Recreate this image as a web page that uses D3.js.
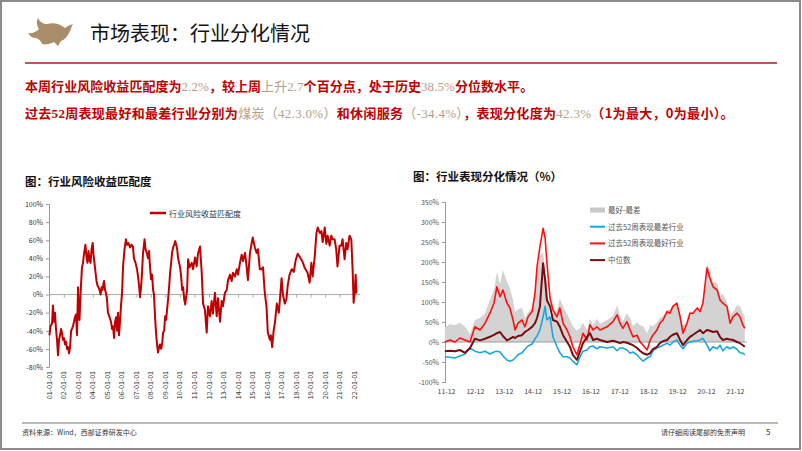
<!DOCTYPE html>
<html>
<head>
<meta charset="utf-8">
<style>
  body { margin: 0; background: #fff; }
  svg { display: block; }
  text { font-family: "Noto Sans CJK SC", sans-serif; }
</style>
</head>
<body>
<svg width="802" height="451"></svg>
<script src="https://d3js.org/d3.v7.min.js"></script>
<script>
	// ---- left chart data: 行业风险收益匹配度 (decimal year, %)
	const lhYears = [2001.01,2001.08,2001.19,2001.25,2001.32,2001.39,2001.46,2001.53,2001.60,2001.67,2001.74,2001.81,2001.87,2001.94,
		2002.01,2002.08,2002.15,2002.22,2002.29,2002.36,2002.43,2002.50,2002.56,2002.63,2002.70,2002.77,2002.84,2002.91,2002.98,
		2003.02,2003.08,2003.15,2003.25,2003.32,2003.39,2003.49,2003.56,2003.63,2003.70,2003.77,2003.84,2003.91,2003.99,
		2004.04,2004.11,2004.18,2004.25,2004.32,2004.39,2004.46,2004.53,2004.60,2004.66,2004.73,2004.77,2004.84,2004.90,2004.97,
		2005.04,2005.15,2005.25,2005.32,2005.39,2005.46,2005.53,2005.60,2005.67,2005.73,2005.80,2005.87,2005.94,
		2006.01,2006.08,2006.18,2006.28,2006.35,2006.45,2006.56,2006.66,2006.76,2006.83,2006.94,
		2007.04,2007.11,2007.18,2007.25,2007.32,2007.39,2007.45,2007.56,2007.63,2007.73,2007.80,2007.87,2007.94,
		2008.01,2008.08,2008.15,2008.21,2008.28,2008.35,2008.42,2008.49,2008.56,2008.63,2008.70,2008.77,2008.84,2008.91,2008.98,
		2009.05,2009.12,2009.19,2009.26,2009.32,2009.39,2009.46,2009.53,2009.60,2009.67,2009.74,2009.81,2009.87,2009.94,
		2010.01,2010.08,2010.15,2010.22,2010.29,2010.36,2010.42,2010.49,2010.56,2010.66,2010.81,2010.90,
		2011.04,2011.15,2011.24,2011.38,2011.50,2011.59,2011.72,2011.84,2011.93,
		2012.07,2012.18,2012.27,2012.41,2012.53,2012.62,2012.76,2012.87,2012.96,
		2013.10,2013.22,2013.31,2013.45,2013.56,2013.65,2013.79,2013.91,
		2014.00,2014.13,2014.25,2014.34,2014.48,2014.59,2014.68,2014.82,
		2015.01,2015.16,2015.28,2015.37,2015.50,2015.62,2015.72,2015.84,2015.96,
		2016.05,2016.19,2016.26,2016.35,2016.45,2016.55,2016.67,2016.81,
		2017.00,2017.09,2017.22,2017.33,2017.42,2017.55,2017.70,2017.84,2017.97,
		2018.11,2018.24,2018.45,2018.58,2018.79,2018.93,
		2019.05,2019.14,2019.28,2019.40,2019.49,2019.63,2019.74,2019.83,2019.97,
		2020.08,2020.17,2020.31,2020.42,2020.51,2020.65,2020.76,2020.85,2020.99,
		2021.11,2021.20,2021.34,2021.45,2021.54,2021.68,2021.80,2021.89,2021.96,
		2022.03,2022.10,2022.15,2022.19];
	const lhValues = [-45,-35,-32,-12,-30,-20,-38,-50,-67,-50,-45,-38,-42,-50,
		-48,-55,-52,-60,-58,-65,-58,-40,-38,-35,-30,-25,-22,-45,8,
		-20,-28,0,30,35,45,55,42,35,48,38,35,50,57,
		45,35,25,15,10,8,5,0,8,5,12,15,5,2,-5,
		-20,-25,-30,-38,-35,-48,-30,-25,-40,-20,-45,-30,-12,
		2,31,50,61,55,57,52,55,53,40,35,
		28,20,10,-3,8,25,45,61,50,45,40,48,30,
		17,22,5,0,-24,-42,-55,-64,-58,-55,-60,-55,-42,-40,-24,
		-28,-15,-4,10,24,35,47,52,55,59,55,50,40,35,
		30,20,5,8,-5,-11,-3,5,39,30,35,28,
		41,31,45,53,24,-10,-17,-42,-13,
		-24,-7,-21,2,-24,-4,-30,-7,-13,
		2,5,16,22,15,24,20,28,
		22,35,44,37,46,31,16,46,
		63,52,46,50,28,28,30,2,-13,
		-42,-50,-45,-58,-40,-30,-10,-20,
		18,0,-10,-5,10,22,28,25,38,
		45,42,36,30,24,13,
		35,20,42,68,74,68,70,58,74,
		56,65,54,65,61,61,50,31,54,
		54,61,39,57,50,65,61,28,-9,
		2,22,2,2];
	const lhTickYears = [2001,2002,2003,2004,2005,2006,2007,2008,2009,2010,2011,2012,2013,2014,2015,2016,2017,2018,2019,2020,2021,2022];
	const lhTickLabels = ["01-01-01","02-01-01","03-01-01","04-01-01","05-01-01","06-01-01","07-01-01","08-01-01","09-01-01","10-01-01","11-01-01",
		"12-01-01","13-01-01","14-01-01","15-01-01","16-01-01","17-01-01","18-01-01","19-01-01","20-01-01","21-01-01","22-01-01"];
	const lhYTicks = [100,80,60,40,20,0,-20,-40,-60,-80];

	// ---- right chart data: 行业表现分化情况 (decimal year, %)
	const rhYears = [2011.88,2012.06,2012.23,2012.40,2012.58,2012.75,2012.92,2013.10,2013.27,2013.44,2013.58,2013.68,2013.79,2013.89,
		2014.03,2014.13,2014.24,2014.31,2014.41,2014.55,2014.65,2014.76,2014.90,2015.00,2015.07,2015.17,2015.28,2015.35,2015.41,
		2015.52,2015.62,2015.76,2015.86,2015.97,2016.11,2016.21,2016.31,2016.45,2016.56,2016.66,2016.80,2016.90,
		2017.01,2017.14,2017.25,2017.49,2017.70,2017.84,2017.94,2018.04,2018.18,2018.29,2018.39,2018.53,2018.63,2018.74,2018.88,2018.98,
		2019.08,2019.22,2019.32,2019.43,2019.57,2019.67,2019.77,2019.91,2020.02,2020.12,2020.26,2020.36,2020.47,2020.61,2020.71,2020.81,2020.95,
		2021.05,2021.16,2021.30,2021.40,2021.50,2021.64,2021.75,2021.85,2021.99,2022.09,2022.19,2022.26];
	const rhSpread = [37,45,42,48,38,20,55,60,72,105,130,175,145,180,
		150,135,105,75,82,85,60,75,85,118,175,215,225,175,150,
		60,70,78,110,88,70,55,40,28,35,48,30,58,
		42,58,45,55,65,92,65,52,72,60,40,50,42,40,22,42,
		40,48,60,65,80,82,90,95,72,42,52,75,72,85,75,90,195,
		180,150,148,115,120,100,65,75,92,90,72,65];
	const rhBest = [0,5,0,10,5,0,38,30,47,72,97,138,113,130,
		97,85,55,30,47,55,38,63,76,122,188,238,284,260,200,
		110,80,63,85,47,30,13,-12,-32,-5,22,5,43,
		30,38,30,38,51,68,47,34,51,30,13,17,1,-8,-20,4,
		17,30,47,55,76,72,89,97,63,22,47,72,72,85,76,97,185,
		160,138,130,105,97,89,47,63,72,63,43,34];
	const rhWorst = [-37,-38,-40,-35,-30,-15,-23,-27,-23,-30,-25,-23,-25,-35,
		-45,-48,-45,-40,-32,-27,-18,-10,-5,8,15,30,63,89,55,
		63,13,-12,-27,-37,-37,-40,-48,-57,-37,-23,-20,-12,
		-10,-17,-12,-15,-12,-22,-15,-15,-20,-28,-25,-32,-40,-48,-40,-37,
		-22,-15,-12,-8,-3,-8,0,5,-8,-17,-3,0,2,3,5,9,-8,
		-22,-12,-17,-8,-22,-12,-17,-12,-18,-27,-28,-32];
	const rhMedian = [-23,-22,-23,-20,-27,-15,8,4,8,13,18,22,25,15,
		4,8,13,10,15,17,25,30,38,47,60,89,197,155,105,
		89,55,51,38,17,0,-12,-32,-45,-23,-3,13,22,
		5,8,5,0,3,0,-3,0,-2,-5,-8,-15,-22,-28,-32,-28,
		-18,-12,-3,2,5,13,18,22,5,-8,5,13,18,25,30,22,30,
		28,25,27,13,5,8,6,5,0,-3,-8,-12];
	const rhTickYears = [2011.92,2012.92,2013.92,2014.92,2015.92,2016.92,2017.92,2018.92,2019.92,2020.92,2021.92];
	const rhTickLabels = ["11-12","12-12","13-12","14-12","15-12","16-12","17-12","18-12","19-12","20-12","21-12"];
	const rhYTicks = [350,300,250,200,150,100,50,0,-50,-100];
	const rhLegend = ["最好-最差","过去52周表现最差行业","过去52周表现最好行业","中位数"];

	const RED = "#c00000", TAN = "#b5a088";
	const svg = d3.select("svg");

	// page frame
	svg.append("rect").attr("x", 1).attr("y", 1).attr("width", 799).attr("height", 448)
		.attr("fill", "none").attr("stroke", "#8c8c8c").attr("stroke-width", 2);

	// logo (bull silhouette)
	svg.append("path")
		.attr("d", "M28,33 C32,34 36,32 39,29 C37,26 36,22 38,18 C40,22 43,24 47,24 C54,22 60,24 65,28 C67,26 70,25 73,24 C71,27 71,30 69,33 C67,37 64,40 61,41 L58,46 L54,42 C50,44 45,45 42,44 C41,41 39,39 36,38 C32,38 30,36 28,33 Z")
		.attr("fill", "#a98c6a");

	svg.append("text").attr("x", 90).attr("y", 41).attr("font-size", 20).attr("fill", "#111")
		.text("市场表现：行业分化情况");

	svg.append("line").attr("x1", 25).attr("x2", 777).attr("y1", 63).attr("y2", 63)
		.attr("stroke", "#c0545e").attr("stroke-width", 2);

	// summary lines
	function richLine(y, spacing, parts) {
		const t = svg.append("text").attr("x", 25).attr("y", y).attr("font-size", 13)
			.attr("letter-spacing", spacing);
		parts.forEach(p => {
			t.append("tspan").text(p[0])
				.attr("fill", p[1] ? TAN : RED)
				.attr("font-weight", p[1] ? 400 : 700)
				.attr("font-family", p[2] ? "Liberation Serif, serif" : "Noto Sans CJK SC, sans-serif");
		});
	}
	richLine(91, 0.05, [["本周行业风险收益匹配度为"], ["2.2%", 1, 1], ["，较上周"], ["上升", 1], ["2.7", 1, 1],
		["个百分点，处于历史"], ["38.5%", 1, 1], ["分位数水平。"]]);
	richLine(118, 0.3, [["过去"], ["52", 0, 1], ["周表现最好和最差行业分别为"], ["煤炭（", 1], ["42.3.0%", 1, 1], ["）", 1],
		["和休闲服务"], ["（", 1], ["-34.4%", 1, 1], ["）", 1], ["，表现分化度为"], ["42.3%", 1, 1], ["（1为最大，0为最小）。"]]);

	// chart titles
	svg.append("text").attr("x", 25).attr("y", 186).attr("font-size", 11.5).attr("font-weight", 700)
		.attr("fill", "#111").text("图：行业风险收益匹配度");
	svg.append("text").attr("x", 413).attr("y", 181).attr("font-size", 11.5).attr("font-weight", 700)
		.attr("fill", "#111").text("图：行业表现分化情况（%）");

	// ---------- left chart
	const lx = d3.scaleLinear().domain([2001, 2022]).range([49.3, 354.2]);
	const ly = d3.scaleLinear().domain([-80, 100]).range([367, 204]);
	const lg = svg.append("g");

	lg.append("g").attr("transform", "translate(49,0)")
		.call(d3.axisLeft(ly).tickValues(lhYTicks).tickSize(3).tickFormat(d => d + "%"))
		.call(g => g.select(".domain").attr("stroke", "#999"))
		.call(g => g.selectAll(".tick line").attr("stroke", "#999"))
		.call(g => g.selectAll("text").attr("font-family", "Liberation Sans, Arial, sans-serif")
			.attr("font-size", 7).attr("fill", "#333"));

	lg.append("g").attr("transform", "translate(0," + ly(0) + ")")
		.call(d3.axisBottom(lx).tickValues(lhTickYears).tickSize(3).tickFormat(""))
		.call(g => g.select(".domain").attr("stroke", "#aaa").attr("d", "M49,0H360"))
		.call(g => g.selectAll(".tick line").attr("stroke", "#aaa"));

	lg.append("g").selectAll("text").data(lhTickYears).join("text")
		.attr("transform", d => "translate(" + (lx(d) + 2.5) + ",371) rotate(-90)")
		.attr("text-anchor", "end")
		.attr("font-family", "Liberation Sans, Arial, sans-serif").attr("font-size", 7).attr("fill", "#333")
		.text((d, i) => lhTickLabels[i]);

	const lline = d3.line().x(d => lx(d[0])).y(d => ly(d[1]));
	lg.append("path").datum(lhYears.map((y, i) => [y, lhValues[i]]))
		.attr("d", lline).attr("fill", "none").attr("stroke", RED).attr("stroke-width", 2)
		.attr("stroke-linejoin", "round");

	lg.append("line").attr("x1", 150).attr("x2", 166).attr("y1", 213).attr("y2", 213)
		.attr("stroke", RED).attr("stroke-width", 2.5);
	lg.append("text").attr("x", 169).attr("y", 216.5).attr("font-size", 8).attr("fill", "#333")
		.text("行业风险收益匹配度");

	// ---------- right chart
	const rx = d3.scaleLinear().domain([2011.92, 2021.92]).range([446, 735]);
	const ry = d3.scaleLinear().domain([-100, 350]).range([382, 202]);
	const rg = svg.append("g");

	rg.append("g").attr("transform", "translate(445,0)")
		.call(d3.axisLeft(ry).tickValues(rhYTicks).tickSize(3).tickFormat(d => d + "%"))
		.call(g => g.select(".domain").attr("stroke", "#999"))
		.call(g => g.selectAll(".tick line").attr("stroke", "#999"))
		.call(g => g.selectAll("text").attr("font-family", "Liberation Sans, Arial, sans-serif")
			.attr("font-size", 7).attr("fill", "#555"));

	rg.append("g").attr("transform", "translate(0,382)")
		.call(d3.axisBottom(rx).tickValues(rhTickYears).tickSize(0).tickPadding(7)
			.tickFormat((d, i) => rhTickLabels[i]))
		.call(g => g.select(".domain").remove())
		.call(g => g.selectAll("text").attr("font-family", "Liberation Sans, Arial, sans-serif")
			.attr("font-size", 7).attr("fill", "#444"));

	const rows = rhYears.map((y, i) => ({ y, s: rhSpread[i], b: rhBest[i], w: rhWorst[i], m: rhMedian[i] }));
	rg.append("path").datum(rows)
		.attr("d", d3.area().x(d => rx(d.y)).y0(ry(0)).y1(d => ry(d.s)))
		.attr("fill", "#d3d3d3");

	rg.append("line").attr("x1", 445).attr("x2", 747).attr("y1", ry(0)).attr("y2", ry(0))
		.attr("stroke", "#888").attr("stroke-width", 0.8);

	const series = [
		{ key: "w", color: "#19a7e0", w: 1.6 },
		{ key: "b", color: "#ff1010", w: 1.6 },
		{ key: "m", color: "#7a0c10", w: 2 }
	];
	series.forEach(s => {
		rg.append("path").datum(rows)
			.attr("d", d3.line().x(d => rx(d.y)).y(d => ry(d[s.key])))
			.attr("fill", "none").attr("stroke", s.color).attr("stroke-width", s.w)
			.attr("stroke-linejoin", "round");
	});

	const legColors = ["#c8c8c8", "#19a7e0", "#ff1010", "#7a0c10"];
	const leg = rg.append("g").selectAll("g").data(rhLegend).join("g")
		.attr("transform", (d, i) => "translate(590," + (210 + i * 16.7) + ")");
	leg.append("rect").attr("x", 0).attr("y", (d, i) => i === 0 ? -2.5 : -1)
		.attr("width", 15).attr("height", (d, i) => i === 0 ? 5 : 2)
		.attr("fill", (d, i) => legColors[i]);
	leg.append("text").attr("x", 18).attr("y", 3).attr("font-size", 7.5).attr("fill", "#555").text(d => d);

	// footer
	svg.append("line").attr("x1", 22).attr("x2", 778).attr("y1", 423).attr("y2", 423)
		.attr("stroke", "#777").attr("stroke-width", 1);
	svg.append("text").attr("x", 22).attr("y", 435).attr("font-size", 7).attr("fill", "#333")
		.text("资料来源：Wind，西部证券研发中心");
	svg.append("text").attr("x", 745).attr("y", 435).attr("font-size", 7).attr("fill", "#333")
		.attr("text-anchor", "end").text("请仔细阅读尾部的免责声明");
	svg.append("text").attr("x", 766).attr("y", 435).attr("font-size", 8).attr("fill", "#333")
		.attr("font-family", "Liberation Sans, Arial, sans-serif").text("5");
</script>
</body>
</html>
